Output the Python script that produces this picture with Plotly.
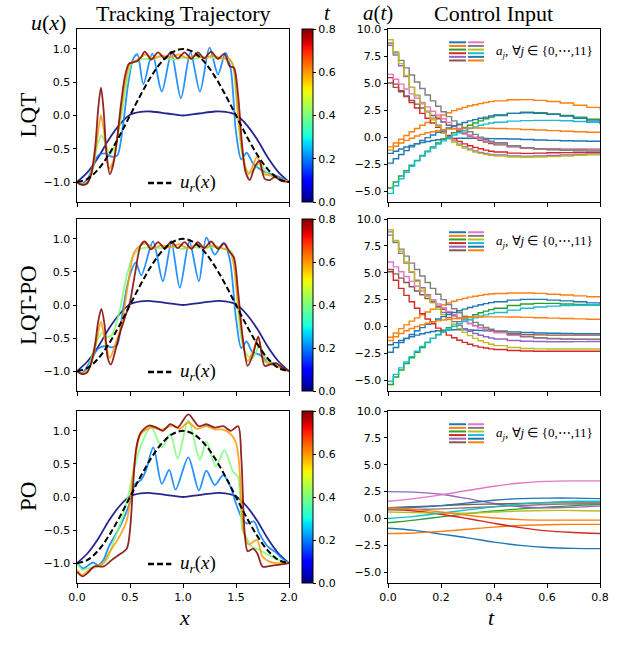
import plotly.graph_objects as go
from plotly.subplots import make_subplots

W, H = 640, 649

# ---------------- left column: snapshots u(x) ----------------
REF_X = [0.0, 0.1, 0.2, 0.3, 0.4, 0.5, 0.6, 0.7, 0.8, 0.9, 1.0,
         1.1, 1.2, 1.3, 1.4, 1.5, 1.6, 1.7, 1.8, 1.9, 2.0]
REF_U = [-1.0, -0.951, -0.809, -0.588, -0.309, 0.0, 0.309, 0.588, 0.809, 0.951, 1.0,
         0.951, 0.809, 0.588, 0.309, 0.0, -0.309, -0.588, -0.809, -0.951, -1.0]

# t = 0 (same initial state in every row)
T0_X = [0.0, 0.1, 0.2, 0.3, 0.4, 0.5, 0.6, 0.7, 0.85, 1.0, 1.15, 1.3, 1.4, 1.5, 1.6, 1.7, 1.8, 1.9, 2.0]
T0_U = [-1.0, -0.85, -0.63, -0.36, -0.14, 0.01, 0.055, 0.06, 0.03, 0.0, 0.03, 0.06, 0.055, 0.01,
        -0.14, -0.36, -0.63, -0.85, -1.0]

# LQT
LQT_X1 = [0.0, 0.05, 0.1, 0.15, 0.2, 0.27, 0.33, 0.38, 0.43, 0.48, 0.53, 0.57, 0.626, 0.71, 0.8, 0.89,
          0.98, 1.07, 1.16, 1.25, 1.33, 1.4, 1.45, 1.5, 1.55, 1.6, 1.66, 1.72, 1.79, 1.87, 1.94, 2.0]
LQT_U1 = [-1.0, -1.02, -0.95, -0.78, -0.6, -0.57, -0.62, -0.6, -0.2, 0.45, 0.85, 0.92, 0.47, 0.93, 0.36, 0.93,
          0.26, 0.95, 0.36, 1.02, 0.62, 0.94, 0.7, -0.25, -0.66, -0.56, -0.72, -0.8, -0.86, -0.9, -0.95, -1.0]
LQT_X2 = [0.0, 0.05, 0.1, 0.15, 0.2, 0.23, 0.27, 0.31, 0.36, 0.42, 0.47, 0.52, 0.57, 0.62, 0.7, 0.8,
          0.9, 1.0, 1.1, 1.2, 1.3, 1.4, 1.46, 1.5, 1.55, 1.6, 1.65, 1.72, 1.8, 1.9, 2.0]
LQT_U2 = [-1.0, -1.04, -1.0, -0.75, -0.4, -0.3, -0.42, -0.58, -0.45, 0.0, 0.5, 0.8, 0.83, 0.85, 0.85, 0.88,
          0.84, 0.87, 0.85, 0.88, 0.86, 0.85, 0.8, 0.3, -0.5, -0.82, -0.85, -0.72, -0.88, -0.95, -1.0]
LQT_X3 = [0.0, 0.05, 0.1, 0.15, 0.19, 0.226, 0.26, 0.3, 0.34, 0.4, 0.45, 0.5, 0.55, 0.6, 0.65, 0.72, 0.8,
          0.88, 0.96, 1.04, 1.12, 1.2, 1.28, 1.36, 1.44, 1.48, 1.52, 1.57, 1.62, 1.7, 1.76, 1.83, 1.9, 2.0]
LQT_U3 = [-1.0, -1.04, -1.0, -0.8, -0.35, 0.0, -0.3, -0.8, -0.7, -0.1, 0.45, 0.78, 0.82, 0.87, 0.92, 0.86, 0.9,
          0.87, 0.92, 0.86, 0.9, 0.86, 0.9, 0.86, 0.85, 0.7, 0.0, -0.65, -0.88, -0.62, -0.88, -0.9, -0.95, -1.0]
LQT_X4 = [0.0, 0.04, 0.09, 0.13, 0.17, 0.2, 0.226, 0.25, 0.28, 0.31, 0.34, 0.375, 0.41, 0.45, 0.49, 0.53,
          0.57, 0.605, 0.64, 0.70, 0.765, 0.83, 0.89, 0.95, 1.015, 1.08, 1.14, 1.2, 1.265, 1.33, 1.39, 1.44,
          1.48, 1.52, 1.555, 1.59, 1.63, 1.67, 1.72, 1.77, 1.82, 1.87, 1.92, 2.0]
LQT_U4 = [-1.0, -1.04, -1.03, -0.9, -0.5, 0.1, 0.42, 0.1, -0.6, -0.88, -0.75, -0.4, 0.1, 0.57, 0.78, 0.8,
          0.82, 0.88, 0.96, 0.84, 0.95, 0.85, 0.96, 0.86, 0.95, 0.85, 0.95, 0.86, 0.96, 0.85, 0.93, 0.74,
          0.72, 0.3, -0.4, -0.85, -0.97, -0.8, -0.68, -0.95, -0.97, -0.92, -0.98, -1.0]

# LQT-PO
LP_X1 = [0.0, 0.05, 0.1, 0.15, 0.2, 0.27, 0.33, 0.38, 0.43, 0.49, 0.553, 0.607, 0.717, 0.81, 0.89,
         0.97, 1.06, 1.15, 1.22, 1.30, 1.38, 1.44, 1.5, 1.55, 1.6, 1.65, 1.72, 1.8, 1.88, 2.0]
LP_U1 = [-1.0, -1.03, -0.92, -0.78, -0.66, -0.62, -0.64, -0.6, -0.1, 0.4, 0.64, 0.45, 0.96, 0.36, 0.94,
         0.26, 0.96, 0.36, 1.02, 0.76, 0.94, 0.7, -0.2, -0.65, -0.55, -0.7, -0.75, -0.85, -0.9, -1.0]
LP_X2 = [0.0, 0.05, 0.1, 0.15, 0.2, 0.24, 0.28, 0.33, 0.4, 0.47, 0.53, 0.6, 0.7, 0.8, 0.9, 1.0, 1.1,
         1.2, 1.3, 1.4, 1.46, 1.5, 1.55, 1.6, 1.66, 1.72, 1.8, 1.9, 2.0]
LP_U2 = [-1.0, -1.04, -0.98, -0.72, -0.5, -0.42, -0.48, -0.45, -0.1, 0.45, 0.75, 0.85, 0.87, 0.86, 0.88,
         0.85, 0.87, 0.86, 0.88, 0.84, 0.8, 0.3, -0.5, -0.75, -0.8, -0.62, -0.85, -0.93, -1.0]
LP_X3 = [0.0, 0.05, 0.1, 0.15, 0.19, 0.226, 0.26, 0.31, 0.36, 0.42, 0.48, 0.54, 0.6, 0.65, 0.72, 0.8,
         0.88, 0.96, 1.04, 1.12, 1.2, 1.28, 1.36, 1.44, 1.48, 1.52, 1.57, 1.61, 1.66, 1.71, 1.77, 1.84, 1.92, 2.0]
LP_U3 = [-1.0, -1.04, -1.0, -0.8, -0.5, -0.25, -0.5, -0.8, -0.6, -0.3, 0.3, 0.8, 0.9, 0.93, 0.86, 0.9,
         0.87, 0.92, 0.86, 0.9, 0.86, 0.9, 0.86, 0.82, 0.6, 0.0, -0.6, -0.85, -0.7, -0.5, -0.85, -0.9, -0.95, -1.0]
LP_X4 = [0.0, 0.04, 0.09, 0.13, 0.17, 0.2, 0.23, 0.26, 0.29, 0.32, 0.36, 0.4, 0.45, 0.5, 0.55, 0.6, 0.64,
         0.7, 0.765, 0.83, 0.89, 0.95, 1.015, 1.08, 1.14, 1.2, 1.265, 1.33, 1.39, 1.44, 1.48, 1.52, 1.56,
         1.61, 1.66, 1.71, 1.77, 1.82, 1.88, 1.94, 2.0]
LP_U4 = [-1.0, -1.04, -1.03, -0.9, -0.6, -0.25, -0.06, -0.3, -0.8, -0.9, -0.7, -0.45, -0.2, 0.05, 0.5, 0.9,
         0.96, 0.84, 0.95, 0.85, 0.96, 0.86, 0.95, 0.85, 0.95, 0.86, 0.96, 0.85, 0.93, 0.8, 0.72, 0.2, -0.45,
         -0.92, -0.75, -0.48, -0.92, -0.9, -0.88, -0.95, -1.0]

# PO
PO_X1 = [0.0, 0.06, 0.1, 0.15, 0.2, 0.25, 0.3, 0.37, 0.42, 0.5, 0.55, 0.6, 0.65, 0.72, 0.8, 0.87, 0.93,
         1.05, 1.15, 1.22, 1.3, 1.38, 1.45, 1.5, 1.55, 1.6, 1.67, 1.72, 1.8, 1.87, 1.93, 2.0]
PO_U1 = [-1.0, -1.08, -1.04, -0.99, -1.03, -0.95, -0.75, -0.55, -0.4, -0.08, 0.2, 0.25, 0.4, 0.75, 0.2,
         0.41, 0.11, 0.6, 0.1, 0.4, 0.18, 0.33, 0.15, -0.1, -0.3, -0.4, -0.37, -0.55, -0.75, -0.83, -0.92, -1.0]
PO_X2 = [0.0, 0.05, 0.1, 0.2, 0.28, 0.35, 0.42, 0.48, 0.55, 0.62, 0.7, 0.8, 0.88, 0.95, 1.05, 1.16,
         1.22, 1.31, 1.39, 1.47, 1.52, 1.56, 1.6, 1.65, 1.72, 1.8, 1.9, 2.0]
PO_U2 = [-1.0, -1.1, -1.08, -1.05, -0.95, -0.65, -0.35, 0.0, 0.5, 0.85, 1.06, 0.75, 0.95, 0.58, 1.16, 0.56,
         0.84, 0.46, 0.71, 0.39, 0.3, -0.5, -0.62, -0.75, -0.8, -0.87, -0.95, -1.0]
PO_X3 = [0.0, 0.05, 0.1, 0.18, 0.25, 0.3, 0.4, 0.47, 0.5, 0.55, 0.6, 0.7, 0.8, 0.9, 0.97, 1.05, 1.13,
         1.22, 1.3, 1.38, 1.45, 1.5, 1.53, 1.57, 1.62, 1.66, 1.7, 1.75, 1.82, 1.9, 2.0]
PO_U3 = [-1.1, -1.18, -1.12, -1.05, -1.0, -0.85, -0.6, -0.35, -0.05, 0.6, 0.95, 1.05, 1.02, 1.08, 1.03,
         1.13, 1.03, 1.07, 1.02, 1.02, 0.95, 0.82, 0.5, -0.5, -0.72, -0.68, -0.65, -0.9, -0.98, -1.0, -1.0]
PO_X4 = [0.0, 0.05, 0.1, 0.16, 0.25, 0.33, 0.4, 0.47, 0.5, 0.53, 0.56, 0.6, 0.68, 0.75, 0.81, 0.88, 0.95,
         1.05, 1.15, 1.22, 1.3, 1.38, 1.45, 1.52, 1.55, 1.58, 1.61, 1.66, 1.7, 1.75, 1.8, 1.87, 1.93, 2.0]
PO_U4 = [-1.13, -1.2, -1.15, -1.05, -1.05, -0.95, -0.87, -0.78, -0.5, 0.2, 0.75, 0.97, 1.08, 1.05, 1.0,
         1.1, 1.05, 1.25, 1.07, 1.1, 1.05, 1.07, 1.0, 1.07, 0.6, -0.5, -0.82, -0.78, -0.85, -1.05, -1.05,
         -1.03, -1.02, -1.0]

SNAP_T = [0.0, 0.2, 0.4, 0.6, 0.8]

# ---------------- right column: control inputs a_j(t) ----------------
TS = [0.00, 0.02, 0.04, 0.06, 0.08, 0.10, 0.12, 0.14, 0.16, 0.18, 0.20,
      0.22, 0.24, 0.26, 0.28, 0.30, 0.32, 0.34, 0.36, 0.38, 0.40,
      0.45, 0.50, 0.55, 0.60, 0.65, 0.70, 0.75, 0.80]

LQT_A = [
    [-1.5, -1.3, -1.1, -0.92, -0.76, -0.62, -0.5, -0.4, -0.31, -0.24, -0.18,
     -0.14, -0.12, -0.1, -0.1, -0.1, -0.11, -0.12, -0.13, -0.14, -0.15,
     -0.18, -0.22, -0.26, -0.3, -0.33, -0.36, -0.38, -0.4],
    [-0.9, -0.55, -0.2, 0.15, 0.5, 0.8, 1.1, 1.35, 1.6, 1.85, 2.05,
     2.25, 2.45, 2.6, 2.75, 2.9, 3.0, 3.1, 3.2, 3.28, 3.35,
     3.45, 3.47, 3.4, 3.3, 3.15, 2.95, 2.75, 2.55],
    [-4.7, -4.15, -3.6, -3.1, -2.6, -2.15, -1.7, -1.3, -0.9, -0.55, -0.2,
     0.1, 0.4, 0.65, 0.9, 1.1, 1.3, 1.5, 1.7, 1.85, 2.0,
     2.2, 2.3, 2.25, 2.15, 2.0, 1.85, 1.65, 1.45],
    [5.5, 4.9, 4.3, 3.75, 3.2, 2.7, 2.2, 1.75, 1.3, 0.9, 0.5,
     0.15, -0.15, -0.4, -0.62, -0.8, -0.95, -1.08, -1.2, -1.3, -1.38,
     -1.48, -1.5, -1.48, -1.45, -1.43, -1.42, -1.41, -1.4],
    [8.7, 7.6, 6.6, 5.6, 4.6, 3.85, 3.1, 2.4, 1.75, 1.1, 0.5,
     0.05, -0.35, -0.65, -0.9, -1.1, -1.28, -1.42, -1.52, -1.6, -1.66,
     -1.74, -1.76, -1.74, -1.7, -1.65, -1.6, -1.55, -1.52],
    [5.0, 4.6, 4.2, 3.8, 3.4, 3.05, 2.7, 2.35, 2.0, 1.7, 1.4,
     1.1, 0.8, 0.55, 0.3, 0.1, -0.1, -0.3, -0.45, -0.6, -0.72,
     -0.9, -1.0, -1.06, -1.1, -1.12, -1.12, -1.11, -1.1],
    [5.8, 5.35, 4.9, 4.45, 4.0, 3.6, 3.2, 2.8, 2.4, 2.05, 1.7,
     1.35, 1.0, 0.7, 0.45, 0.2, 0.0, -0.18, -0.34, -0.48, -0.6,
     -0.85, -1.0, -1.1, -1.16, -1.19, -1.2, -1.2, -1.2],
    [8.5, 7.8, 7.1, 6.4, 5.75, 5.1, 4.5, 3.9, 3.35, 2.85, 2.35,
     1.9, 1.5, 1.15, 0.8, 0.5, 0.25, 0.0, -0.2, -0.38, -0.52,
     -0.8, -0.98, -1.1, -1.18, -1.23, -1.27, -1.29, -1.3],
    [9.0, 7.9, 6.8, 5.7, 4.6, 3.85, 3.1, 2.35, 1.7, 1.0, 0.35,
     -0.05, -0.45, -0.75, -1.0, -1.2, -1.38, -1.5, -1.6, -1.68, -1.75,
     -1.84, -1.86, -1.84, -1.8, -1.74, -1.68, -1.63, -1.6],
    [-5.2, -4.5, -3.85, -3.25, -2.7, -2.2, -1.75, -1.35, -1.0, -0.65, -0.35,
     -0.05, 0.2, 0.4, 0.6, 0.8, 0.95, 1.1, 1.2, 1.3, 1.38,
     1.48, 1.53, 1.55, 1.55, 1.52, 1.45, 1.38, 1.3],
    [-2.4, -2.0, -1.6, -1.25, -0.9, -0.6, -0.3, -0.05, 0.2, 0.45, 0.65,
     0.85, 1.05, 1.2, 1.35, 1.5, 1.62, 1.75, 1.85, 1.95, 2.05,
     2.2, 2.25, 2.2, 2.1, 1.95, 1.75, 1.5, 1.2],
    [-1.2, -0.85, -0.55, -0.3, -0.1, 0.1, 0.25, 0.4, 0.5, 0.6, 0.68,
     0.74, 0.78, 0.81, 0.83, 0.84, 0.84, 0.84, 0.83, 0.82, 0.8,
     0.76, 0.71, 0.66, 0.6, 0.55, 0.5, 0.45, 0.4],
]

LP_A = [
    [-1.7, -1.5, -1.3, -1.12, -0.95, -0.8, -0.67, -0.56, -0.47, -0.4, -0.35,
     -0.32, -0.3, -0.3, -0.31, -0.33, -0.35, -0.37, -0.4, -0.42, -0.45,
     -0.5, -0.55, -0.6, -0.63, -0.65, -0.67, -0.68, -0.68],
    [-1.0, -0.6, -0.2, 0.15, 0.5, 0.8, 1.1, 1.35, 1.6, 1.8, 2.0,
     2.2, 2.35, 2.5, 2.62, 2.73, 2.82, 2.9, 2.97, 3.02, 3.07,
     3.12, 3.12, 3.08, 3.0, 2.93, 2.85, 2.77, 2.7],
    [-5.4, -4.7, -4.05, -3.45, -2.9, -2.4, -1.95, -1.5, -1.1, -0.75, -0.4,
     -0.1, 0.2, 0.45, 0.7, 0.9, 1.1, 1.28, 1.43, 1.57, 1.7,
     1.95, 2.1, 2.15, 2.15, 2.1, 2.05, 2.0, 1.97],
    [5.1, 4.3, 3.55, 2.9, 2.3, 1.7, 1.2, 0.7, 0.25, -0.15, -0.5,
     -0.8, -1.05, -1.28, -1.48, -1.65, -1.8, -1.92, -2.0, -2.08, -2.14,
     -2.23, -2.28, -2.3, -2.3, -2.3, -2.3, -2.3, -2.3],
    [8.8, 7.8, 6.8, 5.9, 5.05, 4.3, 3.6, 2.95, 2.35, 1.8, 1.3,
     0.85, 0.45, 0.1, -0.2, -0.45, -0.65, -0.82, -0.96, -1.07, -1.16,
     -1.3, -1.37, -1.4, -1.42, -1.42, -1.41, -1.4, -1.4],
    [5.3, 4.9, 4.5, 4.1, 3.7, 3.3, 2.95, 2.6, 2.25, 1.9, 1.6,
     1.3, 1.0, 0.75, 0.5, 0.28, 0.08, -0.1, -0.25, -0.38, -0.48,
     -0.65, -0.74, -0.78, -0.8, -0.8, -0.8, -0.8, -0.8],
    [6.0, 5.55, 5.1, 4.65, 4.2, 3.75, 3.3, 2.9, 2.5, 2.1, 1.75,
     1.4, 1.1, 0.8, 0.52, 0.28, 0.06, -0.12, -0.3, -0.45, -0.58,
     -0.82, -0.98, -1.08, -1.14, -1.17, -1.19, -1.2, -1.2],
    [8.5, 7.85, 7.2, 6.55, 5.9, 5.3, 4.7, 4.1, 3.55, 3.0, 2.5,
     2.05, 1.65, 1.28, 0.95, 0.65, 0.38, 0.14, -0.08, -0.26, -0.42,
     -0.72, -0.92, -1.04, -1.12, -1.16, -1.18, -1.19, -1.2],
    [9.0, 8.0, 7.0, 6.0, 5.1, 4.2, 3.5, 2.8, 2.2, 1.6, 1.1,
     0.65, 0.2, -0.2, -0.55, -0.85, -1.1, -1.32, -1.5, -1.65, -1.78,
     -1.95, -2.05, -2.08, -2.1, -2.1, -2.1, -2.1, -2.1],
    [-5.1, -4.45, -3.85, -3.3, -2.8, -2.3, -1.85, -1.45, -1.1, -0.78, -0.5,
     -0.22, 0.03, 0.25, 0.45, 0.63, 0.8, 0.95, 1.08, 1.2, 1.3,
     1.52, 1.7, 1.82, 1.9, 1.95, 1.97, 1.97, 1.95],
    [-2.4, -1.95, -1.5, -1.1, -0.75, -0.4, -0.1, 0.2, 0.45, 0.7, 0.92,
     1.12, 1.3, 1.47, 1.62, 1.77, 1.9, 2.02, 2.13, 2.22, 2.3,
     2.45, 2.52, 2.52, 2.45, 2.38, 2.3, 2.2, 2.1],
    [-1.3, -0.95, -0.65, -0.4, -0.18, 0.0, 0.16, 0.3, 0.42, 0.52, 0.61,
     0.68, 0.74, 0.79, 0.83, 0.86, 0.88, 0.89, 0.9, 0.9, 0.9,
     0.88, 0.85, 0.82, 0.78, 0.75, 0.71, 0.68, 0.65],
]

TP = [0.0, 0.1, 0.2, 0.3, 0.4, 0.5, 0.6, 0.7, 0.8]
PO_A = [
    [-0.9, -1.1, -1.45, -1.8, -2.2, -2.5, -2.7, -2.78, -2.8],
    [-1.4, -1.35, -1.2, -1.0, -0.8, -0.65, -0.58, -0.55, -0.55],
    [-0.4, -0.15, 0.15, 0.45, 0.7, 0.9, 1.05, 1.2, 1.3],
    [0.85, 0.7, 0.4, 0.0, -0.45, -0.85, -1.15, -1.3, -1.4],
    [2.5, 2.45, 2.25, 1.85, 1.4, 1.1, 1.0, 1.05, 1.15],
    [1.0, 1.1, 1.2, 1.3, 1.35, 1.4, 1.45, 1.45, 1.45],
    [1.6, 1.85, 2.2, 2.6, 3.0, 3.3, 3.45, 3.5, 3.5],
    [0.8, 0.85, 0.9, 1.0, 1.1, 1.2, 1.3, 1.35, 1.4],
    [0.6, 0.55, 0.5, 0.5, 0.6, 0.7, 0.75, 0.75, 0.7],
    [0.0, 0.2, 0.5, 0.8, 1.1, 1.35, 1.5, 1.6, 1.6],
    [1.0, 1.05, 1.2, 1.45, 1.7, 1.85, 1.9, 1.9, 1.85],
    [1.0, 0.85, 0.6, 0.3, 0.05, -0.1, -0.15, -0.15, -0.15],
]

ROW_NAMES = ["LQT", "LQT-PO", "PO"]

TAB10 = ["#1f77b4", "#ff7f0e", "#2ca02c", "#d62728", "#9467bd",
         "#8c564b", "#e377c2", "#7f7f7f", "#bcbd22", "#17becf"]

SERIF = "Liberation Serif"
SANS = "DejaVu Sans"


def jet(v):
    # matplotlib 'jet' segment data
    segs = [
        [(0, 0), (0.35, 0), (0.66, 1), (0.89, 1), (1, 0.5)],
        [(0, 0), (0.125, 0), (0.375, 1), (0.64, 1), (0.91, 0), (1, 0)],
        [(0, 0.5), (0.11, 1), (0.34, 1), (0.65, 0), (1, 0)],
    ]
    out = []
    for s in segs:
        for (a, ca), (b, cb) in zip(s[:-1], s[1:]):
            if a <= v <= b:
                out.append(ca + (cb - ca) * (v - a) / (b - a))
                break
    return "rgb(%d,%d,%d)" % tuple(round(255 * c) for c in out)


JET_SCALE = [[i / 40, jet(i / 40)] for i in range(41)]


# pixel positions measured on the screenshot -> paper fractions
def px(x):
    return x / W


def py(y):
    return 1 - y / H


# panel boxes in pixels
LEFT = (77, 289)
RIGHT = (388, 600)
ROWS = [(29, 202), (219, 391), (411, 583)]

fig = make_subplots(rows=3, cols=2)

snaps = [
    [(T0_X, T0_U), (LQT_X1, LQT_U1), (LQT_X2, LQT_U2), (LQT_X3, LQT_U3), (LQT_X4, LQT_U4)],
    [(T0_X, T0_U), (LP_X1, LP_U1), (LP_X2, LP_U2), (LP_X3, LP_U3), (LP_X4, LP_U4)],
    [(T0_X, T0_U), (PO_X1, PO_U1), (PO_X2, PO_U2), (PO_X3, PO_U3), (PO_X4, PO_U4)],
]
controls = [(TS, LQT_A, "hv"), (TS, LP_A, "hv"), (TP, PO_A, "spline")]

annotations = []
shapes = []
ax_common = dict(showline=True, mirror=True, linecolor="black", linewidth=1,
                 ticks="outside", ticklen=3.5, tickwidth=1, tickcolor="black",
                 showgrid=False, zeroline=False, automargin=False,
                 tickfont=dict(family=SANS, size=11, color="black"))

for r in range(3):
    row = r + 1
    top, bot = ROWS[r]
    ydom = [py(bot), py(top)]
    # left: snapshots
    for (xs, us), t in zip(snaps[r], SNAP_T):
        fig.add_trace(go.Scatter(x=xs, y=us, mode="lines", opacity=0.85,
                                 line=dict(color=jet(t / 0.8), width=1.8, shape="spline", smoothing=0.8),
                                 showlegend=False, hoverinfo="skip"), row=row, col=1)
    fig.add_trace(go.Scatter(x=REF_X, y=REF_U, mode="lines",
                             line=dict(color="black", width=2, dash="6px,3px", shape="spline"),
                             showlegend=False, hoverinfo="skip"), row=row, col=1)
    # dummy point (off-range) carrying the colorbar
    ca = "coloraxis" if r == 0 else "coloraxis%d" % (r + 1)
    fig.add_trace(go.Scatter(x=[1.0], y=[5.0], mode="markers",
                             marker=dict(color=[0.4], coloraxis=ca, size=1, opacity=0),
                             showlegend=False, hoverinfo="skip"), row=row, col=1)
    fig.update_layout({ca: dict(cmin=0, cmax=0.8, colorscale=JET_SCALE,
                                colorbar=dict(x=px(302), xanchor="left", xpad=0, ypad=0,
                                              y=(ydom[0] + ydom[1]) / 2, yanchor="middle",
                                              len=bot - top, lenmode="pixels",
                                              thickness=11, thicknessmode="pixels",
                                              outlinewidth=1, outlinecolor="black",
                                              tickvals=[0, 0.2, 0.4, 0.6, 0.8], tickformat=".1f",
                                              ticks="outside", ticklen=3, tickcolor="black",
                                              tickfont=dict(family=SANS, size=11, color="black")))})
    # right: controls
    tgrid, series, shape = controls[r]
    for j, a in enumerate(series):
        fig.add_trace(go.Scatter(x=tgrid, y=a, mode="lines",
                                 line=dict(color=TAB10[j % 10], width=1.4, shape=shape),
                                 showlegend=False, hoverinfo="skip"), row=row, col=2)

    xl = "xaxis" if r == 0 else "xaxis%d" % (2 * r + 1)
    yl = "yaxis" if r == 0 else "yaxis%d" % (2 * r + 1)
    xr = "xaxis%d" % (2 * r + 2)
    yr = "yaxis%d" % (2 * r + 2)
    fig.update_layout({
        xl: dict(ax_common, domain=[px(LEFT[0]), px(LEFT[1])], range=[0, 2], tick0=0, dtick=0.5,
                 tickformat=".1f", showticklabels=(r == 2)),
        yl: dict(ax_common, domain=ydom, range=[-1.3, 1.3], tick0=0, dtick=0.5, tickformat=".1f"),
        xr: dict(ax_common, domain=[px(RIGHT[0]), px(RIGHT[1])], range=[0, 0.8], tick0=0, dtick=0.2,
                 tickformat=".1f", showticklabels=(r == 2)),
        yr: dict(ax_common, domain=ydom, range=[-6, 10], tick0=0, dtick=2.5, tickformat=".1f"),
    })

    # left legend: dashed sample + u_r(x)
    lx = "x" if r == 0 else "x%d" % (2 * r + 1)
    ly = "y" if r == 0 else "y%d" % (2 * r + 1)
    shapes.append(dict(type="line", xref=lx + " domain", yref=ly + " domain",
                       x0=0.335, x1=0.445, y0=0.11, y1=0.11,
                       line=dict(color="black", width=2.5, dash="6px,3px")))
    annotations.append(dict(xref=lx + " domain", yref=ly + " domain", x=0.475, y=0.11,
                            xanchor="left", yanchor="middle", showarrow=False,
                            text="<i>u<sub>r</sub></i>(<i>x</i>)",
                            font=dict(family=SERIF, size=19, color="black")))
    # right legend: 12 samples in two columns
    rx = "x%d" % (2 * r + 2)
    ry = "y%d" % (2 * r + 2)
    for j in range(12):
        col, k = divmod(j, 6)
        x0, x1 = (0.288, 0.368) if col == 0 else (0.377, 0.453)
        yy = 0.923 - 0.021 * k
        shapes.append(dict(type="line", xref=rx + " domain", yref=ry + " domain",
                           x0=x0, x1=x1, y0=yy, y1=yy,
                           line=dict(color=TAB10[j % 10], width=2)))
    annotations.append(dict(xref=rx + " domain", yref=ry + " domain", x=0.5, y=0.87,
                            xanchor="left", yanchor="middle", showarrow=False,
                            text="<i>a<sub>j</sub></i>, ∀<i>j</i> ∈ {0,⋯,11}",
                            font=dict(family=SERIF, size=13, color="black")))
    # row label
    annotations.append(dict(xref="paper", yref="paper", x=px(28), y=(ydom[0] + ydom[1]) / 2,
                            text=ROW_NAMES[r], textangle=-90, showarrow=False,
                            xanchor="center", yanchor="middle",
                            font=dict(family=SERIF, size=23, color="black")))


def label(text, x, y, size=22):
    annotations.append(dict(xref="paper", yref="paper", x=px(x), y=py(y), text=text,
                            showarrow=False, xanchor="center", yanchor="middle",
                            font=dict(family=SERIF, size=size, color="black")))


label("Tracking Trajectory", 183, 14)
label("<i>u</i>(<i>x</i>)", 48, 23)
label("<i>t</i>", 327, 13, size=21)
label("<i>a</i>(<i>t</i>)", 378, 13, size=21)
label("Control Input", 493, 14)
label("<i>x</i>", 184, 617)
label("<i>t</i>", 491, 617)

fig.update_layout(
    width=W, height=H,
    margin=dict(l=0, r=0, t=0, b=0, autoexpand=False),
    paper_bgcolor="white", plot_bgcolor="white",
    showlegend=False,
    annotations=annotations,
    shapes=shapes,
)

# drop the default 8px body margin so the figure fills the window exactly
fig.write_html("out.html", config={"displayModeBar": False},
               post_script="document.body.style.margin='0';")
